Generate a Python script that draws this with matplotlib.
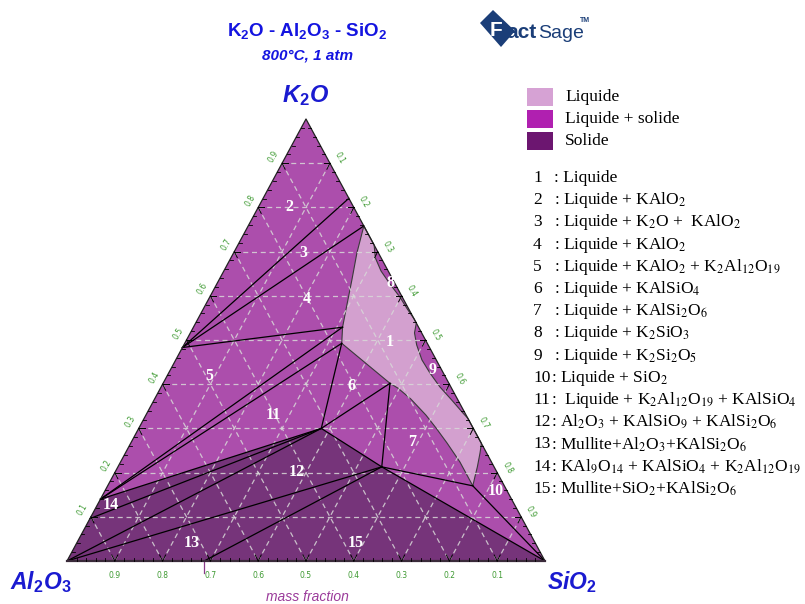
import matplotlib.pyplot as plt
from matplotlib.patches import Polygon

plt.rcParams['mathtext.fontset'] = 'custom'
plt.rcParams['mathtext.rm'] = 'Liberation Sans:bold'
plt.rcParams['mathtext.it'] = 'Liberation Sans:bold:italic'

# compositions as (K2O, SiO2) mass fractions, Al2O3 = 1 - K2O - SiO2
AL2O3 = (0.0, 0.0)
SIO2 = (0.0, 1.0)
KALO2 = (0.483, 0.0)
K2AL12O19 = (0.140, 0.0)
KAL9O14 = (0.096, 0.0)
KALSIO4 = (0.300, 0.382)
LEUCITE = (0.213, 0.552)
MULLITE = (0.0, 0.287)

# liquid corner points
L0 = (0.529, 0.312)
L1 = (0.4925, 0.3285)
L2 = (0.402, 0.4747)
L3 = (0.170, 0.764)
TOP = (0.758, 0.242)
EDGE23 = (0.8206, 0.1794)

# liquid boundary (K2O, SiO2), going round from the top edge point
liq_k = [0.758, 0.715, 0.686, 0.656, 0.627, 0.597, 0.570, 0.548,
         0.5385, 0.516, 0.489, 0.455, 0.425, 0.394, 0.364, 0.334, 0.323,
         0.266, 0.244, 0.213, 0.191, 0.170,
         0.224, 0.267, 0.301, 0.330, 0.3665, 0.391, 0.402,
         0.4925, 0.529, 0.579, 0.636, 0.697]
liq_s = [0.242, 0.285, 0.302, 0.329, 0.362, 0.398, 0.427, 0.452,
         0.4615, 0.469, 0.487, 0.515, 0.547, 0.583, 0.623, 0.662, 0.677,
         0.734, 0.742, 0.752, 0.758, 0.764,
         0.710, 0.6615, 0.6215, 0.586, 0.536, 0.497, 0.4747,
         0.3285, 0.312, 0.296, 0.278, 0.258]

solid_region = [AL2O3, K2AL12O19, KALSIO4, LEUCITE, SIO2]

tie_lines = [
    (EDGE23, KALO2), (TOP, KALO2), (L0, KALO2),
    (L0, K2AL12O19), (L1, K2AL12O19), (L1, KALSIO4),
    (L2, KALSIO4), (L2, LEUCITE), (KALSIO4, LEUCITE),
    (K2AL12O19, KALSIO4), (KAL9O14, KALSIO4), (AL2O3, KALSIO4),
    (AL2O3, LEUCITE), (MULLITE, LEUCITE), (LEUCITE, SIO2),
    (LEUCITE, L3), (L3, SIO2),
]

phase_names = ['Liquide', 'Liquide + solide', 'Solide']
phase_colors = ['#D6A2D4', '#B020B0', '#6C1670']

region_names = [
    'Liquide',
    'Liquide + KAlO$_2$',
    'Liquide + K$_2$O +  KAlO$_2$',
    'Liquide + KAlO$_2$',
    'Liquide + KAlO$_2$ + K$_2$Al$_{12}$O$_{19}$',
    'Liquide + KAlSiO$_4$',
    'Liquide + KAlSi$_2$O$_6$',
    'Liquide + K$_2$SiO$_3$',
    'Liquide + K$_2$Si$_2$O$_5$',
    'Liquide + SiO$_2$',
    ' Liquide + K$_2$Al$_{12}$O$_{19}$ + KAlSiO$_4$',
    'Al$_2$O$_3$ + KAlSiO$_9$ + KAlSi$_2$O$_6$',
    'Mullite+Al$_2$O$_3$+KAlSi$_2$O$_6$',
    'KAl$_9$O$_{14}$ + KAlSiO$_4$ + K$_2$Al$_{12}$O$_{19}$',
    'Mullite+SiO$_2$+KAlSi$_2$O$_6$',
]
# where the region numbers sit in the picture (pixels)
region_label_px = [(390, 342), (289, 207), (303, 253), (307, 299), (209, 376),
                   (351, 386), (412, 442), (390, 283), (433, 370), (496, 491),
                   (273, 415), (297, 472), (192, 543), (111, 505), (356, 543)]

grid_values = [0.1, 0.2, 0.3, 0.4, 0.5, 0.6, 0.7, 0.8, 0.9]

W, H = 805, 604


def xy(c):
    k, s = c
    return s + 0.5 * k, k


def ftext(xp, yp, s, **kw):
    fig.text(xp / W, 1 - yp / H, s, **kw)


def pix(xp, yp):
    return (xp - 67) / 478, (561 - yp) / 442


fig = plt.figure(figsize=(W / 100, H / 100), dpi=100)
ax = fig.add_axes([0, 0, 1, 1])
ax.set_xlim(-67 / 478, (W - 67) / 478)
ax.set_ylim((561 - H) / 442, 561 / 442)
ax.axis('off')

two_phase = '#AC4EAC'
solid_col = '#76347A'
liq_col = '#D3A0CF'

tri = [xy(AL2O3), xy(SIO2), xy((1.0, 0.0))]
ax.add_patch(Polygon(tri, closed=True, fc=two_phase, ec='none', zorder=1))
ax.add_patch(Polygon([xy(c) for c in solid_region], closed=True, fc=solid_col, ec='none', zorder=2))
liq = [xy(c) for c in zip(liq_k, liq_s)]
ax.add_patch(Polygon(liq, closed=True, fc=liq_col, ec='#3a3a3a', lw=0.8, zorder=2))

# dashed grid
for v in grid_values:
    for a, b in [((v, 0), (v, 1 - v)), ((0, v), (1 - v, v)), ((1 - v, 0), (0, 1 - v))]:
        (x0, y0), (x1, y1) = xy(a), xy(b)
        ax.plot([x0, x1], [y0, y1], color='#D8D8D8', lw=0.9, ls=(0, (4, 3)), alpha=0.85, zorder=3)

for a, b in tie_lines:
    (x0, y0), (x1, y1) = xy(a), xy(b)
    ax.plot([x0, x1], [y0, y1], color='black', lw=0.9, zorder=4)

# triangle edges
ax.plot([tri[0][0], tri[2][0], tri[1][0]], [tri[0][1], tri[2][1], tri[1][1]], color='#222222', lw=0.9, zorder=5)
ax.plot([tri[0][0], tri[1][0]], [tri[0][1], tri[1][1]], color='#3a2a3a', lw=1.6, zorder=5)

# ticks
tl = 6
for i in range(1, 50):
    v = i / 50
    major = (i % 5 == 0)
    x0, y0 = xy((v, 0))          # left edge
    x1, y1 = xy((1 - v, v))      # right edge
    x2, y2 = xy((0, v))          # bottom edge
    if major:
        for dx, dy in [(tl / 478, 0), (0.5 * tl / 478, -tl / 442)]:
            ax.plot([x0, x0 + dx], [y0, y0 + dy], color='black', lw=0.7, zorder=5)
        for dx, dy in [(-tl / 478, 0), (-0.5 * tl / 478, -tl / 442)]:
            ax.plot([x1, x1 + dx], [y1, y1 + dy], color='black', lw=0.7, zorder=5)
        for dx, dy in [(0.5 * tl / 478, tl / 442), (-0.5 * tl / 478, tl / 442)]:
            ax.plot([x2, x2 + dx], [y2, y2 + dy], color='black', lw=0.7, zorder=5)
    else:
        ax.plot([x0, x0 + 3 / 478], [y0, y0], color='black', lw=0.6, zorder=5)
        ax.plot([x1, x1 - 3 / 478], [y1, y1], color='black', lw=0.6, zorder=5)
        ax.plot([x2, x2], [y2, y2 + 3 / 442], color='black', lw=0.6, zorder=5)

tick_col = '#3E9A32'
for v in grid_values:
    ax.annotate(f'{v:.1f}', xy((v, 0)), xytext=(-6, 5), textcoords='offset points',
                ha='center', va='center', rotation=60, fontsize=5.5, color=tick_col)
    ax.annotate(f'{v:.1f}', xy((1 - v, v)), xytext=(7.2, 3.6), textcoords='offset points',
                ha='center', va='center', rotation=-60, fontsize=5.5, color=tick_col)
    ax.annotate(f'{v:.1f}', xy((0, 1 - v)), xytext=(0, -10.8), textcoords='offset points',
                ha='center', va='center', fontsize=5.5, color=tick_col)

# mullite mark under the axis
mx, _ = xy(MULLITE)
ax.plot([mx, mx], [pix(0, 562)[1], pix(0, 573)[1]], color='#8A3A8A', lw=0.9, clip_on=False)

# region numbers
for n, (xp, yp) in enumerate(region_label_px, start=1):
    ftext(xp, yp, str(n), ha='center', va='center', color='white',
          fontsize=11.5, fontweight='bold', family='Liberation Serif', zorder=7)

# titles
blue = '#1414E0'
ftext(307, 31, 'K$_2$O - Al$_2$O$_3$ - SiO$_2$', ha='center', va='center', color=blue,
      fontsize=13.5, fontweight='bold', family='Liberation Sans')
ftext(307, 56, '800°C, 1 atm', ha='center', va='center', color=blue,
      fontsize=11, fontweight='bold', style='italic', family='Liberation Sans')
ftext(306, 96, r'K$_\mathit{2}$O', ha='center', va='center', color='#1A1AD0',
      fontsize=17, fontweight='bold', style='italic', family='Liberation Sans')
ftext(41, 582, r'Al$_\mathit{2}$O$_\mathit{3}$', ha='center', va='center', color='#1A1AD0',
      fontsize=16.5, fontweight='bold', style='italic', family='Liberation Sans')
ftext(572, 582, r'SiO$_\mathit{2}$', ha='center', va='center', color='#1A1AD0',
      fontsize=16.5, fontweight='bold', style='italic', family='Liberation Sans')
ftext(307, 597, 'mass fraction', ha='center', va='center', color='#9A3A9A',
      fontsize=10, style='italic', family='Liberation Sans')

# FactSage logo
navy = '#1B3E78'
logo = [pix(480, 23), pix(493, 10), pix(515, 31), pix(501, 47)]
ax.add_patch(Polygon(logo, closed=True, fc=navy, ec='none', clip_on=False))
ftext(490, 31, 'F', ha='left', va='center', color='white', fontsize=15,
      fontweight='bold', family='Liberation Sans')
ftext(506, 32, 'act', ha='left', va='center', color=navy, fontsize=15,
      fontweight='bold', family='Liberation Sans')
ftext(538, 33, 'Sage', ha='left', va='center', color=navy, fontsize=14,
      family='Liberation Sans')
ftext(580, 20, 'TM', ha='left', va='center', color=navy, fontsize=5,
      fontweight='bold', family='Liberation Sans')

# legend
for i, (name, col) in enumerate(zip(phase_names, phase_colors)):
    y = 97 + 22 * i
    x0, y0 = pix(527, y + 9)
    x1, y1 = pix(553, y - 9)
    ax.add_patch(Polygon([(x0, y0), (x1, y0), (x1, y1), (x0, y1)], closed=True,
                         fc=col, ec='none', clip_on=False))
    ftext(565, y, name, ha='left', va='center', fontsize=12.5, family='Liberation Serif')

for i, name in enumerate(region_names):
    y = 178 + 22.2 * i
    n = i + 1
    ftext(533, y, str(n), ha='left', va='center', fontsize=12.5, family='Liberation Serif')
    ftext(554 if n < 10 else 551, y, ': ' + name, ha='left', va='center', fontsize=12.5,
          family='Liberation Serif', math_fontfamily='stix')

fig.savefig('out.png', dpi=100)
